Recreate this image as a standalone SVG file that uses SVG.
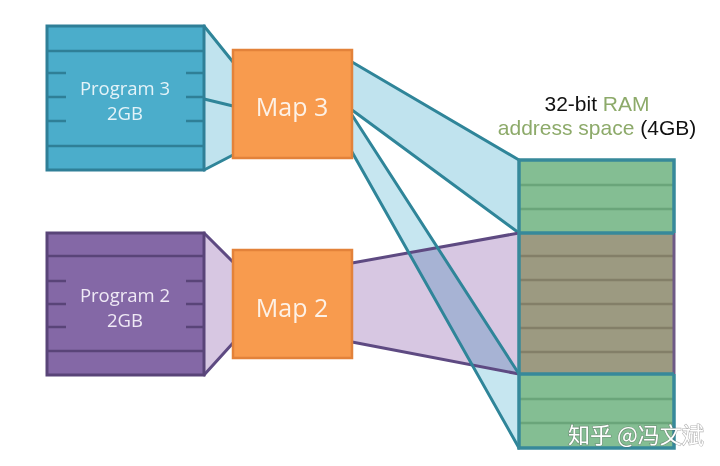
<svg xmlns="http://www.w3.org/2000/svg" width="720" height="466" viewBox="0 0 720 466">
<style>
.p3{fill:#4BADCB;stroke:#2F7F97;stroke-width:3}
.p3l{stroke:#2F7F97;stroke-width:2.5;fill:none}
.p2{fill:#8468A6;stroke:#594478;stroke-width:3}
.p2l{stroke:#594478;stroke-width:2.5;fill:none}
.map{fill:#F89B4E;stroke:#E3823A;stroke-width:2.5}
.lbl{font-family:"Open Sans","Liberation Sans",sans-serif;text-anchor:middle}
.ttl{font-family:"Liberation Sans",Arial,sans-serif;text-anchor:middle;font-size:21px}
.bl{fill:#C0E3EE}
.bline{stroke:#2F8599;stroke-width:3;fill:none;stroke-linecap:round}
.pl{fill:#D7C7E2}
.pline{stroke:#5E4A82;stroke-width:3;fill:none;stroke-linecap:round}
.gr{fill:#84BE93}
.grl{stroke:#6AA57A;stroke-width:2.5}
.br{fill:#9C9A81}
.brl{stroke:#837F68;stroke-width:2.5}
.edge{stroke:#37899A;stroke-width:3.5;fill:none}
</style>
<rect width="720" height="466" fill="#FFFFFF"/>
<g id="connectors">
  <polygon class="bl" points="204,26 233,62 233,155 204,170"/>
  <line class="bline" x1="204" y1="26" x2="233" y2="62"/>
  <line class="bline" x1="204" y1="170" x2="233" y2="155"/>
  <line class="bline" x1="200" y1="98" x2="233" y2="106"/>
  <polygon class="pl" points="204,233 233,262 233,343 204,375"/>
  <line class="pline" x1="204" y1="233" x2="233" y2="262"/>
  <line class="pline" x1="204" y1="375" x2="233" y2="343"/>
  <polygon class="bl" points="352,62 519,160 519,233 352,110"/>
  <line class="bline" x1="352" y1="62" x2="519" y2="160"/>
  <line class="bline" x1="352" y1="110" x2="519" y2="233"/>
  <polygon class="pl" points="352,263 519,233 519,374 352,342"/>
  <polygon fill="#C6E6F0" style="mix-blend-mode:multiply" points="352,115 519,374 519,448 352,152"/>
  <line class="pline" x1="352" y1="263" x2="519" y2="233"/>
  <line class="pline" x1="352" y1="342" x2="519" y2="374"/>
  <line class="bline" x1="352" y1="115" x2="519" y2="374"/>
  <line class="bline" x1="352" y1="152" x2="519" y2="448"/>
</g>
<g id="program3">
  <rect class="p3" x="47" y="26" width="157" height="144"/>
  <line class="p3l" x1="47" y1="51" x2="204" y2="51"/>
  <line class="p3l" x1="47" y1="146" x2="204" y2="146"/>
  <path class="p3l" d="M47 73h19M47 97h19M47 121h19M186 73h18M186 97h18M186 121h18"/>
  <text class="lbl" x="125" y="95" font-size="18.5" fill="#E4F3F8">Program 3</text>
  <text class="lbl" x="125" y="120" font-size="18.5" fill="#E4F3F8">2GB</text>
</g>
<g id="map3">
  <rect class="map" x="233" y="50" width="119" height="108"/>
  <text class="lbl" x="292" y="116" font-size="25" fill="#FDF1E6">Map 3</text>
</g>
<g id="program2">
  <rect class="p2" x="47" y="233" width="157" height="142"/>
  <line class="p2l" x1="47" y1="256" x2="204" y2="256"/>
  <line class="p2l" x1="47" y1="351" x2="204" y2="351"/>
  <path class="p2l" d="M47 281h19M47 304h19M47 327h19M186 281h18M186 304h18M186 327h18"/>
  <text class="lbl" x="125" y="302" font-size="18.5" fill="#EFE9F5">Program 2</text>
  <text class="lbl" x="125" y="327" font-size="18.5" fill="#EFE9F5">2GB</text>
</g>
<g id="map2">
  <rect class="map" x="233" y="250" width="119" height="108"/>
  <text class="lbl" x="292" y="317" font-size="25" fill="#FDF1E6">Map 2</text>
</g>
<g id="ram">
  <rect class="gr" x="519" y="160" width="155" height="73"/>
  <rect class="br" x="519" y="233" width="155" height="141"/>
  <rect class="gr" x="519" y="374" width="155" height="74"/>
  <path class="grl" d="M520 185H673M520 209H673M520 399H673M520 423H673"/>
  <path class="brl" d="M520 256H673M520 280H673M520 304H673M520 328H673M520 352H673"/>
  <line x1="674" y1="233" x2="674" y2="374" stroke="#6E5A86" stroke-width="3"/>
  <path class="edge" d="M674 233V160H519V448H674V374"/>
  <line class="edge" x1="519" y1="233" x2="674" y2="233"/>
  <line class="edge" x1="519" y1="374" x2="674" y2="374"/>
</g>
<g id="title">
  <text class="ttl" x="597" y="111" fill="#111111">32-bit <tspan fill="#8DAA6A">RAM</tspan></text>
  <text class="ttl" x="597" y="135" fill="#111111"><tspan fill="#8DAA6A">address space</tspan> (4GB)</text>
</g>
<text x="568" y="443" font-family="'Noto Sans CJK SC',sans-serif" font-size="22" fill="#FFFFFF" stroke="#555555" stroke-opacity="0.45" stroke-width="1.2" paint-order="stroke">知乎 @冯文斌</text>
</svg>
